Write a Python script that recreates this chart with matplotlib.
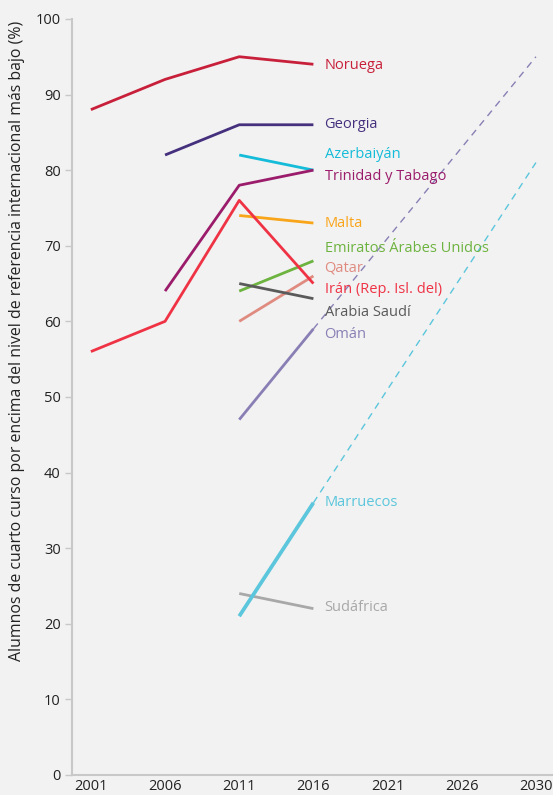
import matplotlib.pyplot as plt

plt.rcParams['font.family'] = ['Open Sans', 'DejaVu Sans']

years = ['2001', '2006', '2011', '2016', '2021', '2026', '2030']

# valores (None = sin dato)
noruega = [88, 92, 95, 94]
georgia = [None, 82, 86, 86]
azerbaiyan = [None, None, 82, 80]
trinidad = [None, 64, 78, 80]
malta = [None, None, 74, 73]
emiratos = [None, None, 64, 68]
qatar = [None, None, 60, 66]
iran = [56, 60, 76, 65]
arabia = [None, None, 65, 63]
oman = [None, None, 47, 59]
marruecos = [None, None, 21, 36]
sudafrica = [None, None, 24, 22]

# proyecciones 2016 -> 2030
proj_oman = [59, 95]
proj_marruecos = [36, 81]

series = [
    ('Noruega', noruega, '#c8203a', 93.9),
    ('Georgia', georgia, '#45307e', 86.0),
    ('Azerbaiyán', azerbaiyan, '#14bcd9', 82.1),
    ('Trinidad y Tabago', trinidad, '#9b1c6b', 79.1),
    ('Malta', malta, '#f9a51a', 72.9),
    ('Emiratos Árabes Unidos', emiratos, '#6db33f', 69.7),
    ('Qatar', qatar, '#e08b80', 67.1),
    ('Irán (Rep. Isl. del)', iran, '#ef3345', 64.2),
    ('Arabia Saudí', arabia, '#5a5a5a', 61.2),
    ('Omán', oman, '#8a7fb5', 58.2),
    ('Sudáfrica', sudafrica, '#a8a8a8', 22.1),
    ('Marruecos', marruecos, '#5bc6dc', 36.1),
]

bg = '#f2f2f2'
fig = plt.figure(figsize=(5.53, 7.95), dpi=100, facecolor=bg)
ax = fig.add_axes([0.130, 0.0252, 0.870, 0.951])
ax.set_facecolor(bg)

# líneas de proyección punteadas
ax.plot([3, 6], proj_oman, color='#8a7fb5', lw=1.0, dashes=(5, 4))
ax.plot([3, 6], proj_marruecos, color='#5bc6dc', lw=1.0, dashes=(5, 4))

for name, vals, color, ly in series:
    xs = [i for i, v in enumerate(vals) if v is not None]
    ys = [v for v in vals if v is not None]
    lw = 2.7 if name == 'Marruecos' else 2.0
    ax.plot(xs, ys, color=color, lw=lw, solid_capstyle='butt', zorder=3)
    ax.text(3.15, ly, name, color=color, fontsize=10.5, va='center', ha='left')

ax.set_xlim(-0.256, 6.23)
ax.set_ylim(0, 100)
ax.set_xticks(range(len(years)))
ax.set_xticklabels(years)
ax.set_yticks(range(0, 101, 10))
ax.tick_params(axis='x', length=0, pad=3, labelsize=10.5, colors='#222222')
ax.tick_params(axis='y', length=5, width=1, color='#c8c8c8', pad=3, labelsize=10.5, labelcolor='#222222')

for s in ['top', 'right']:
    ax.spines[s].set_visible(False)
for s in ['left', 'bottom']:
    ax.spines[s].set_color('#c8c8c8')
    ax.spines[s].set_linewidth(1.5)

ax.set_ylabel('Alumnos de cuarto curso por encima del nivel de referencia internacional más bajo (%)',
              fontsize=11.4, color='#222222')
ax.yaxis.set_label_coords(-0.097, 0.574)

fig.savefig('out.png', dpi=100, facecolor=bg)
